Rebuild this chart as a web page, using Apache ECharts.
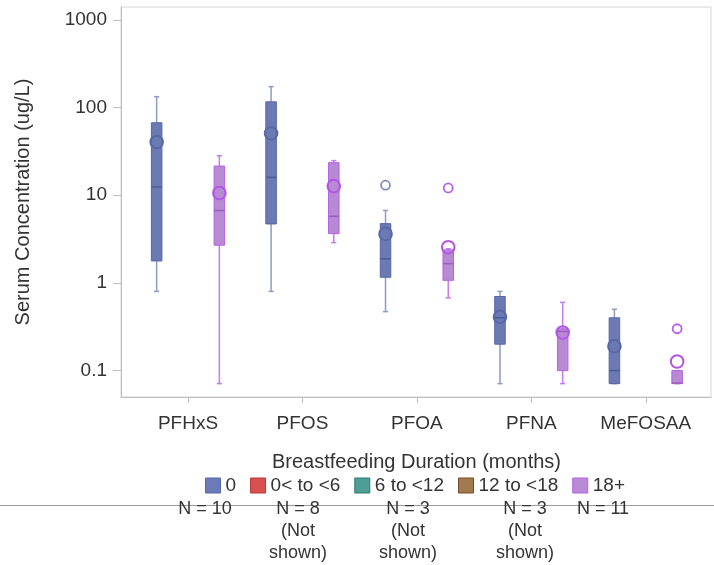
<!DOCTYPE html>
<html><head><meta charset="utf-8">
<script src="https://cdn.jsdelivr.net/npm/echarts@6/dist/echarts.min.js"></script>
<style>html,body{margin:0;padding:0;background:#fff}#c{width:714px;height:565px}</style>
</head><body><div id="c"></div>
<script>
// ---------- data ----------
const categories = ['PFHxS', 'PFOS', 'PFOA', 'PFNA', 'MeFOSAA'];
const groupNames = ['0', '0< to <6', '6 to <12', '12 to <18', '18+'];
const groupCounts = ['N = 10', 'N = 8', 'N = 3', 'N = 3', 'N = 11'];
const groupNotes = ['', '(Not\nshown)', '(Not\nshown)', '(Not\nshown)', ''];
const yTickValues = [0.1, 1, 10, 100, 1000];

// Group "0" (N = 10)
const g0Low    = [0.80, 0.80, 0.47, 0.071, 0.071];
const g0Q1     = [1.78, 4.7, 1.16, 0.20, 0.071];
const g0Median = [12.4, 16.0, 1.88, 0.40, 0.10];
const g0Q3     = [67, 116, 4.74, 0.70, 0.40];
const g0High   = [133, 173, 6.7, 0.80, 0.50];
const g0Mean   = [40.4, 50.8, 3.62, 0.41, 0.19];
const g0OutCat = [2];
const g0OutVal = [13.0];

// Group "18+" (N = 11)
const g18Low    = [0.071, 2.88, 0.675, 0.071, 0.071];
const g18Q1     = [2.69, 3.65, 1.07, 0.10, 0.071];
const g18Median = [6.67, 5.75, 1.66, 0.28, 0.072];
const g18Q3     = [21.5, 23.5, 2.38, 0.30, 0.10];
const g18High   = [28.2, 24.8, 2.45, 0.60, 0.10];
const g18Mean   = [10.6, 12.7, 2.55, 0.272, 0.127];
const g18OutCat = [2, 4];
const g18OutVal = [12.1, 0.30];

// ---------- styles ----------
const FONT = '"Liberation Sans", Arial, sans-serif';
const TXT = '#333333';
const legendColors = [
  {fill: '#6B7BB8', border: '#5767A8'},
  {fill: '#D9514F', border: '#B33A36'},
  {fill: '#4F9E95', border: '#2E7A70'},
  {fill: '#A27A4E', border: '#6E4E2A'},
  {fill: '#B98AD6', border: '#B25FE8'}
];
const blueStyle = {fill: '#6B7AB3', border: '#5767A8', whisker: '#8E9AC8', median: '#4B5B9A', mean: '#5868A9', outlier: '#7F8CC2'};
const purpleStyle = {fill: '#B88AD4', border: '#B462E8', whisker: '#C57BF0', median: '#9C5CC4', mean: '#B455E6', outlier: '#B761EA'};

function boxRenderer(offsetFrac, st) {
  return function (params, api) {
    const cat = api.value(0);
    const band = api.size([1, 1], [cat, 1])[0];
    const cx = api.coord([cat, 1])[0] + offsetFrac * band;
    const py = d => api.coord([cat, api.value(d)])[1];
    const yLow = py(1), yQ1 = py(2), yMed = py(3), yQ3 = py(4), yHigh = py(5), yMean = py(6);
    const bw = band * 0.092, cw = band * 0.045;
    return {type: 'group', children: [
      {type: 'line', shape: {x1: cx, y1: yHigh, x2: cx, y2: yLow}, style: {stroke: st.whisker, lineWidth: 1.5}},
      {type: 'line', shape: {x1: cx - cw / 2, y1: yHigh, x2: cx + cw / 2, y2: yHigh}, style: {stroke: st.whisker, lineWidth: 1.5}},
      {type: 'line', shape: {x1: cx - cw / 2, y1: yLow, x2: cx + cw / 2, y2: yLow}, style: {stroke: st.whisker, lineWidth: 1.5}},
      {type: 'rect', shape: {x: cx - bw / 2, y: yQ3, width: bw, height: yQ1 - yQ3}, style: {fill: st.fill, stroke: st.border, lineWidth: 1}},
      {type: 'line', shape: {x1: cx - bw / 2, y1: yMed, x2: cx + bw / 2, y2: yMed}, style: {stroke: st.median, lineWidth: 1.5}},
      {type: 'circle', shape: {cx: cx, cy: yMean, r: 6.3}, style: {fill: 'none', stroke: st.mean, lineWidth: 2}}
    ]};
  };
}
function outlierRenderer(offsetFrac, st) {
  return function (params, api) {
    const cat = api.value(0);
    const band = api.size([1, 1], [cat, 1])[0];
    const p = api.coord([cat, api.value(1)]);
    return {type: 'circle', shape: {cx: p[0] + offsetFrac * band, cy: p[1], r: 4.5}, style: {fill: 'none', stroke: st.outlier, lineWidth: 1.8}};
  };
}
function boxData(low, q1, med, q3, high, mean) {
  return categories.map((c, i) => [i, low[i], q1[i], med[i], q3[i], high[i], mean[i]]);
}
function outData(cats, vals) { return cats.map((c, i) => [c, vals[i]]); }

const OFF = 0.274;
const series = [
  {name: groupNames[0], type: 'custom', renderItem: boxRenderer(-OFF, blueStyle),
   data: boxData(g0Low, g0Q1, g0Median, g0Q3, g0High, g0Mean), encode: {x: 0, y: [1, 2, 3, 4, 5, 6]},
   itemStyle: {color: legendColors[0].fill}},
  {name: groupNames[0], type: 'custom', renderItem: outlierRenderer(-OFF, blueStyle),
   data: outData(g0OutCat, g0OutVal), encode: {x: 0, y: 1}, itemStyle: {color: legendColors[0].fill}},
  {name: groupNames[1], type: 'custom', renderItem: () => null, data: [], itemStyle: {color: legendColors[1].fill}},
  {name: groupNames[2], type: 'custom', renderItem: () => null, data: [], itemStyle: {color: legendColors[2].fill}},
  {name: groupNames[3], type: 'custom', renderItem: () => null, data: [], itemStyle: {color: legendColors[3].fill}},
  {name: groupNames[4], type: 'custom', renderItem: boxRenderer(OFF, purpleStyle),
   data: boxData(g18Low, g18Q1, g18Median, g18Q3, g18High, g18Mean), encode: {x: 0, y: [1, 2, 3, 4, 5, 6]},
   itemStyle: {color: legendColors[4].fill}},
  {name: groupNames[4], type: 'custom', renderItem: outlierRenderer(OFF, purpleStyle),
   data: outData(g18OutCat, g18OutVal), encode: {x: 0, y: 1}, itemStyle: {color: legendColors[4].fill}}
];

const nLabelX = [205, 298, 408, 525, 603];
const graphics = [
  {type: 'line', z: 0, shape: {x1: 0, y1: 505.5, x2: 714, y2: 505.5}, style: {stroke: '#9a9a9a', lineWidth: 1}},
  {type: 'text', left: 272, top: 452, style: {text: 'Breastfeeding Duration (months)', font: '20px ' + FONT, fill: TXT}}
];
groupCounts.forEach((t, i) => {
  graphics.push({type: 'text', z: 10, x: nLabelX[i], y: 498,
    style: {text: t + (groupNotes[i] ? '\n' + groupNotes[i] : ''), font: '18px ' + FONT, fill: TXT,
            textAlign: 'center', textVerticalAlign: 'top', lineHeight: 22}});
});

const option = {
  animation: false,
  backgroundColor: '#fff',
  textStyle: {fontFamily: FONT},
  grid: {left: 121, right: 3, top: 7, bottom: 168, show: true, borderColor: '#d6d6d6', borderWidth: 1, backgroundColor: 'transparent'},
  xAxis: {
    type: 'value', min: -0.5855, max: 4.570,
    splitLine: {show: false},
    axisLine: {show: true, onZero: false, lineStyle: {color: '#bdbdbd', width: 1}},
    axisTick: {show: true, length: 6, lineStyle: {color: '#bdbdbd'}, customValues: categories.map((c, i) => i)},
    axisLabel: {customValues: categories.map((c, i) => i), formatter: v => categories[Math.round(v)],
                fontSize: 19, color: TXT, margin: 17, fontFamily: FONT}
  },
  yAxis: {
    type: 'log', logBase: 10, min: 0.05, max: 1400,
    name: 'Serum Concentration (ug/L)', nameLocation: 'middle', nameGap: 88,
    nameTextStyle: {fontSize: 20, color: TXT, fontFamily: FONT},
    splitLine: {show: false}, minorTick: {show: false},
    axisLine: {show: true, onZero: false, lineStyle: {color: '#bdbdbd', width: 1}},
    axisTick: {show: true, length: 8, lineStyle: {color: '#bdbdbd'}, customValues: yTickValues},
    axisLabel: {customValues: yTickValues, fontSize: 19, color: TXT, margin: 14, fontFamily: FONT,
                formatter: v => String(+Number(v).toPrecision(6))}
  },
  legend: {
    left: 200, top: 471, itemWidth: 15, itemHeight: 15, itemGap: 14, icon: 'rect', selectedMode: false,
    textStyle: {fontSize: 19, color: TXT, fontFamily: FONT},
    data: groupNames.map((n, i) => ({name: n, itemStyle: {color: legendColors[i].fill, borderColor: legendColors[i].border, borderWidth: 1}}))
  },
  graphic: graphics,
  series: series
};
const chart = echarts.init(document.getElementById('c'), null, {renderer: 'canvas'});
chart.setOption(option);
</script></body></html>
